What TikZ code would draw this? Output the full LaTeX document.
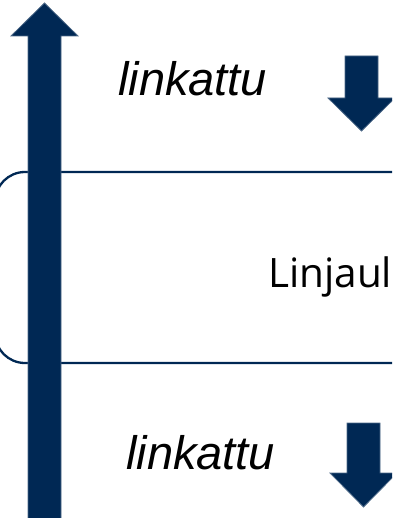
\documentclass[tikz,border=0pt]{standalone}
\usepackage{fontspec}
\setmainfont{Open Sans}
\newfontfamily\arialfont{Liberation Sans}
\definecolor{navy}{RGB}{0,40,84}
\begin{document}
\begin{tikzpicture}[x=1pt,y=-1pt,
	linktext/.style={font=\arialfont\itshape\fontsize{47}{50}\selectfont,inner sep=0pt,anchor=base west},
	blockarrow/.style={fill=navy,draw=navy!70!white,line width=0.8pt,line join=miter}]
	\useasboundingbox (0,0) rectangle (392,518);
	\clip (0,0) rectangle (392,518);
	% laatikko
	\draw[navy,line width=2.3pt,rounded corners=30pt] (-5,172) rectangle (430,363);
	\node[inner sep=0pt,anchor=base west,font=\fontsize{40.5}{46}\selectfont] (linjaus) at (268,287) {Linjaul};
	% nuoli ylos
	\draw[blockarrow] (28,520) -- (28,36) -- (11,36) -- (44.5,3) -- (78,36) -- (61,36) -- (61,520) -- cycle;
	% tekstit
	\node[linktext] (ylalink) at (118,96) {linkattu};
	\node[linktext] (alalink) at (126,469) {linkattu};
	% nuolet alas
	\def\ax{361.5}
	\draw[blockarrow] (\ax-16.5,56) -- (\ax+16.5,56) -- (\ax+16.5,98) -- (\ax+33.5,98) -- (\ax,131) -- (\ax-33.5,98) -- (\ax-16.5,98) -- cycle;
	\def\ax{363.5}
	\draw[blockarrow] (\ax-16.5,423) -- (\ax+16.5,423) -- (\ax+16.5,473) -- (\ax+33.5,473) -- (\ax,507) -- (\ax-33.5,473) -- (\ax-16.5,473) -- cycle;
\end{tikzpicture}
\end{document}
